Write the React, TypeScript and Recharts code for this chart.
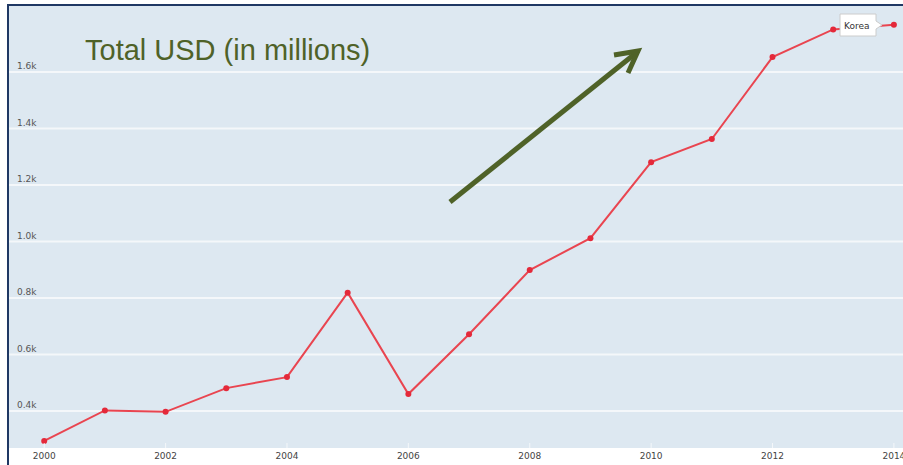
import React from 'react';
import { LineChart, Line, XAxis, YAxis, CartesianGrid } from 'recharts';

const years = [2000, 2001, 2002, 2003, 2004, 2005, 2006, 2007, 2008, 2009, 2010, 2011, 2012, 2013, 2014];
const korea = [294, 402, 397, 481, 520, 819, 460, 672, 899, 1012, 1281, 1363, 1653, 1751, 1768];
const xTicks = [2000, 2002, 2004, 2006, 2008, 2010, 2012, 2014];
const yTicks = [400, 600, 800, 1000, 1200, 1400, 1600];
const seriesName = 'Korea';
const title = 'Total USD (in millions)';

const data = years.map((y, i) => ({ year: y, value: korea[i] }));

const fmtK = (v: number) => (v / 1000).toFixed(1) + 'k';

const XTick = (props: any) => {
  const { x, y, payload } = props;
  return (
    <g>
      <line x1={x} x2={x} y1={y - 5} y2={y} stroke="#f4f7fa" strokeWidth={1} />
      <text x={x} y={y + 11} textAnchor="middle" fontFamily="DejaVu Sans" fontSize={9} fill="#444">
        {payload.value}
      </text>
    </g>
  );
};

const YTick = (props: any) => {
  const { y, payload } = props;
  return (
    <text x={17} y={y - 3} textAnchor="start" fontFamily="DejaVu Sans" fontSize={9} fill="#555">
      {fmtK(payload.value)}
    </text>
  );
};

export default function App() {
  return (
    <div style={{ position: 'absolute', left: 0, top: 0, width: 903, height: 465, background: '#fff', overflow: 'hidden' }}>
      <LineChart width={903} height={465} data={data} margin={{ top: 6, right: 0, left: 9, bottom: 0 }}>
        <CartesianGrid vertical={false} fill="#dde8f1" stroke="#f4f7fa" strokeWidth={2} horizontalValues={yTicks} />
        <XAxis
          dataKey="year"
          type="number"
          domain={[1999.42, 2014.15]}
          ticks={xTicks}
          allowDataOverflow
          height={17}
          axisLine={false}
          tickLine={false}
          tickSize={0}
          tickMargin={0}
          tick={<XTick />}
          interval={0}
        />
        <YAxis
          type="number"
          domain={[269, 1834]}
          ticks={yTicks}
          allowDataOverflow
          mirror
          width={60}
          axisLine={false}
          tickLine={false}
          tick={<YTick />}
          interval={0}
        />
        <Line
          type="linear"
          dataKey="value"
          name={seriesName}
          stroke="#e94550"
          strokeWidth={2}
          dot={{ r: 3, fill: '#e4293a', stroke: '#e4293a', strokeWidth: 0 }}
          isAnimationActive={false}
        />
      </LineChart>
      <svg width={903} height={465} style={{ position: 'absolute', left: 0, top: 0, pointerEvents: 'none' }}>
        <line x1={8} y1={5} x2={8} y2={465} stroke="#1f3864" strokeWidth={2} />
        <line x1={7} y1={5} x2={903} y2={5} stroke="#1f3864" strokeWidth={2} />
        <text x={85} y={60} fontFamily="Liberation Sans" fontSize={29} fill="#4f6228">
          {title}
        </text>
        <line x1={450} y1={202} x2={636} y2={53} stroke="#4f6228" strokeWidth={5} />
        <polyline points="614,55 638,51 628,73" fill="none" stroke="#4f6228" strokeWidth={5} strokeLinejoin="miter" strokeLinecap="butt" />
        <path d="M840,14 L876,14 L876,21 L882,25 L876,29 L876,36 L840,36 Z" fill="#ffffff" stroke="#cccccc" strokeWidth={1} />
        <text x={844} y={28.5} fontFamily="DejaVu Sans" fontSize={9} fill="#333">
          {seriesName}
        </text>
      </svg>
    </div>
  );
}
